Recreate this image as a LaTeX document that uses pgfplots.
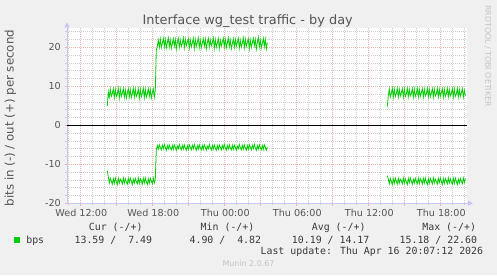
\documentclass[border=0pt]{standalone}
\usepackage{fontspec}
\setmainfont{DejaVu Sans}
\newfontfamily\monofont{DejaVu Sans Mono}
\usepackage{pgfplots}
\pgfplotsset{compat=1.18}
\usetikzlibrary{arrows.meta}
\definecolor{bgcol}{HTML}{F0F0F0}
\definecolor{txtcol}{HTML}{555555}
\definecolor{legcol}{HTML}{3A3A3A}
\definecolor{lgreen}{HTML}{00CC00}
\definecolor{mgrid}{HTML}{F0B4B4}
\definecolor{ngrid}{HTML}{CDCDCD}
\definecolor{axcol}{HTML}{C8C8F4}
\definecolor{wmcol}{HTML}{C4C4C4}
\newcommand\axisfont{\fontsize{9.6bp}{11bp}\selectfont}
\newcommand\legfont{\monofont\fontsize{9.9bp}{12bp}\selectfont}
\begin{document}
\begin{tikzpicture}[x=1bp,y=1bp]
\fill[bgcol] (0,0) rectangle (497,275);
\useasboundingbox (0,0) rectangle (497,275);
\begin{axis}[
  at={(67bp,71.7bp)}, anchor=south west,
  scale only axis, width=400bp, height=175bp,
  xmin=130.7, xmax=530.7, ymin=-20, ymax=24.87,
  axis background/.style={fill=white},
  axis lines=left,
  axis line style={draw=axcol, line width=0.9bp},
  x axis line style={-{Triangle[length=5bp,width=5bp]}, shorten >=-6bp},
  y axis line style={-{Triangle[length=5bp,width=5bp]}, shorten >=-6bp},
  xtick={144,180,216,252,288,324,360,396,432,468,504},
  xticklabels={Wed 12:00,,Wed 18:00,,Thu 00:00,,Thu 06:00,,Thu 12:00,,Thu 18:00},
  minor xtick={132,156,168,192,204,228,240,264,276,300,312,336,348,372,384,408,420,444,456,480,492,516,528},
  ytick={-20,-10,0,10,20},
  yticklabels={-20,-10,0,10,20},
  minor ytick={-18,-16,-14,-12,-8,-6,-4,-2,2,4,6,8,12,14,16,18,22,24},
  grid=both,
  major grid style={mgrid, line width=0.6bp, dash pattern=on 1bp off 1bp},
  minor grid style={ngrid, line width=0.6bp, dash pattern=on 1bp off 1bp},
  tick align=outside,
  major tick length=2.5bp, minor tick length=2bp,
  major tick style={mgrid, line width=0.6bp},
  minor tick style={ngrid, line width=0.6bp},
  ticklabel style={font=\axisfont, text=txtcol},
  xticklabel style={inner sep=0pt, anchor=north, yshift=-3.5bp, xshift=1bp},
  yticklabel style={inner sep=0pt, anchor=east, xshift=-3.5bp},
  title={Interface wg\_test traffic - by day},
  every axis title/.style={at={(axis description cs:0.45175,1.0229)}, anchor=base, font=\fontsize{12.9bp}{15bp}\selectfont, text=txtcol},
  ylabel={bits in (-) / out (+) per second},
  every axis y label/.style={at={(axis description cs:-0.1413,0.4874)}, rotate=90, anchor=center, font=\fontsize{11.8bp}{14bp}\selectfont, text=txtcol},
  clip=true,
]
\addplot[black, line width=1.1bp, forget plot] coordinates {(130.7,0) (530.7,0)};
% out (+), first period
\addplot[lgreen, line width=0.8bp] coordinates {
(171,5.0)(172,8.6)(173,7.2)(174,9.3)(175,7.4)(176,8.1)(177,9.4)(178,7.1)(179,9.2)(180,7.3)
(181,8.0)(182,9.5)(183,7.0)(184,9.3)(185,7.4)(186,8.2)(187,9.4)(188,7.2)(189,9.1)(190,7.0)
(191,8.3)(192,9.4)(193,7.3)(194,9.2)(195,7.1)(196,8.1)(197,9.5)(198,7.2)(199,9.3)(200,7.4)
(201,8.0)(202,9.4)(203,7.0)(204,9.2)(205,7.3)(206,8.2)(207,9.5)(208,7.1)(209,9.3)(210,7.2)
(211,8.1)(212,9.4)(213,7.4)(214,9.2)(215,7.0)(216,8.3)(217,9.4)(218,7.2)(219,9.0)
(220,19.2)(221,20.3)(222,21.8)(223,20.0)(224,22.1)(225,19.9)(226,21.0)(227,22.3)(228,20.2)(229,22.0)
(230,19.8)(231,21.1)(232,22.4)(233,20.1)(234,21.9)(235,19.7)(236,20.9)(237,22.2)(238,20.3)(239,22.0)
(240,19.6)(241,21.2)(242,22.3)(243,20.0)(244,21.8)(245,20.2)(246,21.0)(247,22.4)(248,19.9)(249,22.1)
(250,20.4)(251,21.3)(252,22.2)(253,19.8)(254,21.9)(255,20.1)(256,21.1)(257,22.3)(258,19.7)(259,22.0)
(260,20.2)(261,21.2)(262,22.4)(263,20.0)(264,21.8)(265,19.9)(266,21.0)(267,22.2)(268,20.3)(269,22.1)
(270,19.6)(271,21.1)(272,22.3)(273,20.1)(274,21.9)(275,20.4)(276,21.2)(277,22.4)(278,19.8)(279,22.0)
(280,20.0)(281,21.0)(282,22.2)(283,19.7)(284,21.8)(285,20.3)(286,21.3)(287,22.3)(288,20.1)(289,22.1)
(290,19.9)(291,21.1)(292,22.4)(293,20.2)(294,21.9)(295,19.6)(296,20.8)(297,22.2)(298,20.0)(299,22.0)
(300,20.3)(301,21.2)(302,22.3)(303,19.8)(304,21.8)(305,20.1)(306,21.0)(307,22.4)(308,19.9)(309,22.1)
(310,20.2)(311,21.3)(312,22.2)(313,19.7)(314,21.9)(315,20.0)(316,21.1)(317,22.3)(318,20.4)(319,22.0)
(320,19.5)(321,21.2)(322,22.6)(323,20.1)(324,21.8)(325,19.8)(326,21.0)(327,22.3)(328,20.2)(329,22.1)
(330,19.6)(331,21.2)
};
% out (+), second period
\addplot[lgreen, line width=0.8bp] coordinates {
(451,4.8)(452,7.6)(453,9.3)(454,7.3)(455,8.2)(456,9.5)(457,7.2)(458,9.3)(459,7.4)(460,8.1)
(461,9.5)(462,7.3)(463,9.2)(464,7.5)(465,8.3)(466,9.4)(467,7.2)(468,9.3)(469,7.4)(470,8.0)
(471,9.5)(472,7.3)(473,9.2)(474,7.5)(475,8.2)(476,9.4)(477,7.2)(478,9.3)(479,7.4)(480,8.1)
(481,9.5)(482,7.3)(483,9.2)(484,7.4)(485,8.3)(486,9.4)(487,7.2)(488,9.3)(489,7.5)(490,8.1)
(491,9.5)(492,7.3)(493,9.2)(494,7.4)(495,8.2)(496,9.4)(497,7.2)(498,9.3)(499,7.5)(500,8.0)
(501,9.5)(502,7.3)(503,9.2)(504,7.4)(505,8.3)(506,9.4)(507,7.2)(508,9.3)(509,7.4)(510,8.1)
(511,9.5)(512,7.3)(513,9.2)(514,7.5)(515,8.2)(516,9.4)(517,7.2)(518,9.3)(519,7.4)(520,8.0)
(521,9.5)(522,7.3)(523,9.2)(524,7.4)(525,8.3)(526,9.4)(527,7.2)(528,9.0)(529,7.5)
};
% in (-), first period
\addplot[lgreen, line width=0.8bp] coordinates {
(171,-11.7)(172,-13.2)(173,-14.8)(174,-13.6)(175,-14.3)(176,-15.1)(177,-13.7)(178,-14.9)(179,-13.5)(180,-14.4)
(181,-15.2)(182,-13.6)(183,-14.8)(184,-13.8)(185,-14.2)(186,-15.0)(187,-13.5)(188,-14.9)(189,-13.7)(190,-14.5)
(191,-15.1)(192,-13.6)(193,-14.7)(194,-13.5)(195,-14.3)(196,-15.2)(197,-13.8)(198,-14.8)(199,-13.6)(200,-14.4)
(201,-15.0)(202,-13.5)(203,-14.9)(204,-13.7)(205,-14.2)(206,-15.1)(207,-13.6)(208,-14.8)(209,-13.5)(210,-14.5)
(211,-15.2)(212,-13.7)(213,-14.9)(214,-13.6)(215,-14.3)(216,-15.0)(217,-13.5)(218,-14.8)(219,-13.8)
(220,-6.3)(221,-5.2)(222,-6.1)(223,-5.0)(224,-5.7)(225,-6.3)(226,-5.1)(227,-6.0)(228,-4.9)(229,-5.6)
(230,-6.4)(231,-5.2)(232,-6.1)(233,-5.0)(234,-5.8)(235,-6.3)(236,-5.1)(237,-6.2)(238,-5.0)(239,-5.6)
(240,-6.4)(241,-5.3)(242,-6.0)(243,-4.9)(244,-5.7)(245,-6.3)(246,-5.1)(247,-6.1)(248,-5.0)(249,-5.8)
(250,-6.4)(251,-5.2)(252,-6.2)(253,-5.0)(254,-5.6)(255,-6.3)(256,-5.1)(257,-6.0)(258,-4.9)(259,-5.7)
(260,-6.4)(261,-5.2)(262,-6.1)(263,-5.0)(264,-5.8)(265,-6.3)(266,-5.1)(267,-6.2)(268,-5.0)(269,-5.6)
(270,-6.4)(271,-5.3)(272,-6.0)(273,-4.9)(274,-5.7)(275,-6.3)(276,-5.1)(277,-6.1)(278,-5.0)(279,-5.8)
(280,-6.4)(281,-5.2)(282,-6.2)(283,-5.0)(284,-5.6)(285,-6.3)(286,-5.1)(287,-6.0)(288,-4.9)(289,-5.7)
(290,-6.4)(291,-5.2)(292,-6.1)(293,-5.0)(294,-5.8)(295,-6.3)(296,-5.1)(297,-6.2)(298,-5.0)(299,-5.6)
(300,-6.4)(301,-5.3)(302,-6.0)(303,-4.9)(304,-5.7)(305,-6.3)(306,-5.1)(307,-6.1)(308,-5.0)(309,-5.8)
(310,-6.4)(311,-5.2)(312,-6.2)(313,-5.0)(314,-5.6)(315,-6.3)(316,-5.1)(317,-6.0)(318,-4.9)(319,-5.7)
(320,-6.4)(321,-5.2)(322,-6.1)(323,-5.0)(324,-5.8)(325,-6.3)(326,-5.1)(327,-6.2)(328,-5.0)(329,-5.6)
(330,-6.4)(331,-5.5)
};
% in (-), second period
\addplot[lgreen, line width=0.8bp] coordinates {
(451,-12.9)(452,-13.8)(453,-15.0)(454,-13.6)(455,-14.4)(456,-15.2)(457,-13.7)(458,-14.9)(459,-13.5)(460,-14.3)
(461,-15.1)(462,-13.6)(463,-14.8)(464,-13.8)(465,-14.2)(466,-15.0)(467,-13.5)(468,-14.9)(469,-13.7)(470,-14.5)
(471,-15.2)(472,-13.6)(473,-14.7)(474,-13.5)(475,-14.3)(476,-15.1)(477,-13.8)(478,-14.8)(479,-13.6)(480,-14.4)
(481,-15.0)(482,-13.5)(483,-14.9)(484,-13.7)(485,-14.2)(486,-15.1)(487,-13.6)(488,-14.8)(489,-13.5)(490,-14.5)
(491,-15.2)(492,-13.7)(493,-14.9)(494,-13.6)(495,-14.3)(496,-15.0)(497,-13.5)(498,-14.8)(499,-13.8)(500,-14.4)
(501,-15.1)(502,-13.6)(503,-14.7)(504,-13.5)(505,-14.3)(506,-15.2)(507,-13.7)(508,-14.9)(509,-13.6)(510,-14.2)
(511,-15.0)(512,-13.5)(513,-14.8)(514,-13.7)(515,-14.5)(516,-15.1)(517,-13.6)(518,-14.9)(519,-13.5)(520,-14.3)
(521,-15.2)(522,-13.8)(523,-14.8)(524,-13.6)(525,-14.4)(526,-15.0)(527,-13.5)(528,-14.7)(529,-13.6)
};
\end{axis}
% watermark
\node[rotate=-90, anchor=center, inner sep=0pt, text=wmcol, font=\fontsize{7.9bp}{9bp}\selectfont] at (488,219) {RRDTOOL / TOBI OETIKER};
% legend
\fill[lgreen] (14,31.7) rectangle (20,37.7);
\begin{scope}[every node/.style={inner sep=0pt, text=legcol, font=\legfont}]
\node[anchor=base west] at (88.7,44.6) {Cur (-/+)};
\node[anchor=base west] at (200.5,44.6) {Min (-/+)};
\node[anchor=base west] at (311.7,44.6) {Avg (-/+)};
\node[anchor=base west] at (422.2,44.6) {Max (-/+)};
\node[anchor=base west] at (26.1,31.7) {bps};
\node[anchor=base east] at (152.3,31.7) {13.59 /\ \ 7.49};
\node[anchor=base east] at (261.3,31.7) {4.90 /\ \ 4.82};
\node[anchor=base east] at (369.6,31.7) {10.19 / 14.17};
\node[anchor=base east] at (477.3,31.7) {15.18 / 22.60};
\node[anchor=base east] at (483.3,20.1) {Last update: Thu Apr 16 20:07:12 2026};
\end{scope}
\node[anchor=base, inner sep=0pt, text=wmcol, font=\fontsize{7.9bp}{9bp}\selectfont] at (248.5,8.5) {Munin 2.0.67};
\end{tikzpicture}
\end{document}
